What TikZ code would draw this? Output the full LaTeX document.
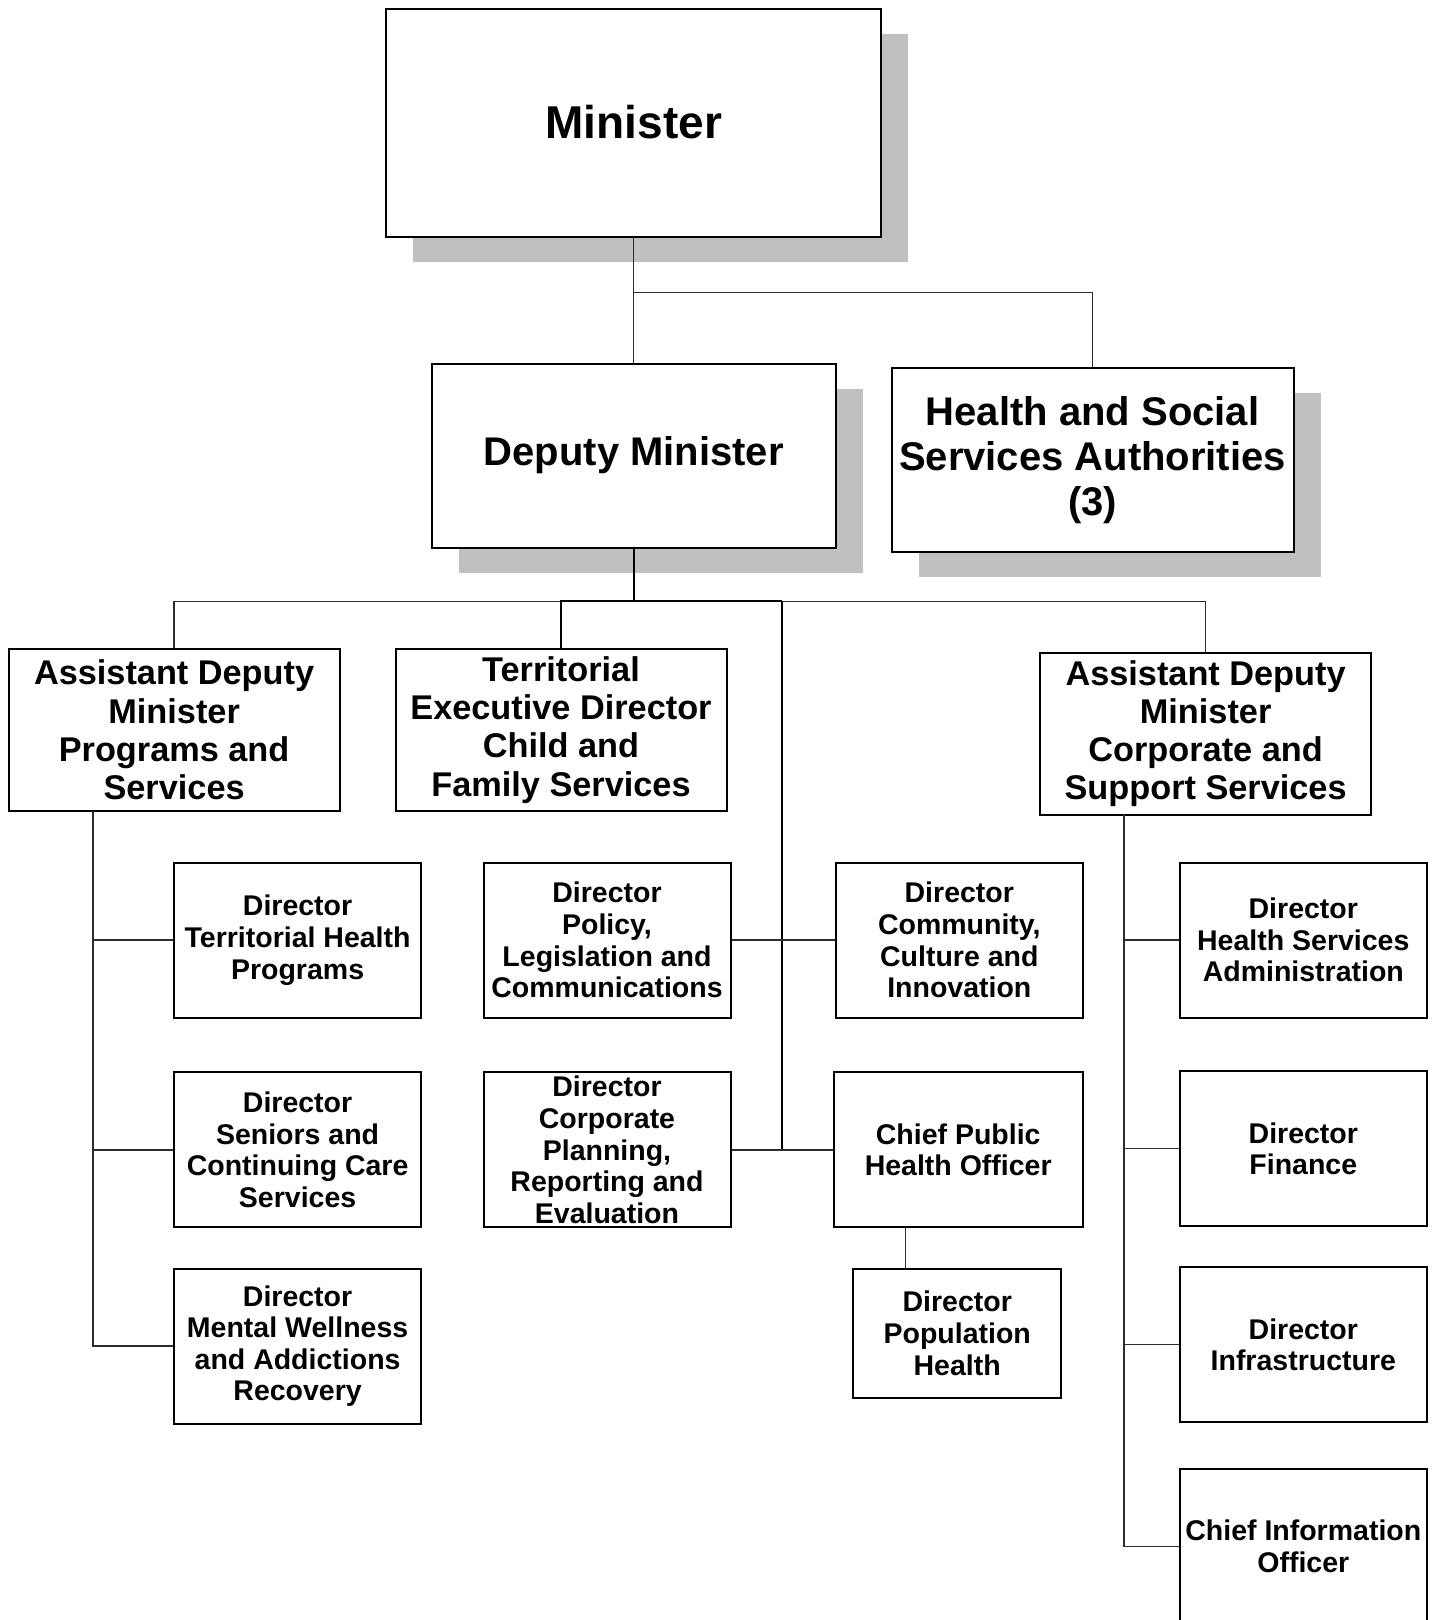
\documentclass[tikz,border=0pt]{standalone}
\usepackage{fontspec}
\setmainfont{Liberation Sans}
\usetikzlibrary{shadows,calc}
\definecolor{shadowgray}{RGB}{192,192,192}
\definecolor{linkgray}{RGB}{45,45,45}

\begin{document}
\begin{tikzpicture}[
  x=1pt, y=-1pt,
  every node/.style={font=\bfseries},
  orgbox/.style={draw, line width=2pt, fill=white, inner sep=0pt, align=center},
  topbox/.style={orgbox, drop shadow={shadow xshift=27pt, shadow yshift=-25pt, fill=shadowgray, opacity=1}},
  admbox/.style={orgbox, minimum width=331pt, minimum height=162pt,
    font=\bfseries\fontsize{34.3}{38.2}\selectfont},
  dirbox/.style={orgbox, minimum width=247pt, minimum height=155pt,
    font=\bfseries\fontsize{28.5}{31.6}\selectfont},
  link/.style={linkgray, line width=1.3pt},
  mainlink/.style={black, line width=2.2pt},
]

%% Page
\fill[white] (0,0) rectangle (1435,1620);
\useasboundingbox (0,0) rectangle (1435,1620);

%% ---- Top level (with shadows) ----
\node[topbox, minimum width=495pt, minimum height=228pt,
  font=\bfseries\fontsize{46}{52}\selectfont] (minister) at (633.8,122.5) {Minister};
\node[topbox, minimum width=404pt, minimum height=184pt,
  font=\bfseries\fontsize{40}{45}\selectfont] (deputy) at (633.8,455.6) {Deputy Minister};
\node[topbox, minimum width=402pt, minimum height=184pt,
  font=\bfseries\fontsize{40}{45}\selectfont] (hssa) at (1092.5,459.8)
  {Health and Social\\Services Authorities\\(3)};

%% ---- Second level ----
\node[admbox] (admprog) at (174.1,729.9)
  {Assistant Deputy\\Minister\\Programs and\\Services};
\node[admbox] (ted) at (561,729.9)
  {Territorial\\Executive Director\\Child and\\Family Services};
\node[admbox] (admcorp) at (1205.6,733.5)
  {Assistant Deputy\\Minister\\Corporate and\\Support Services};

%% ---- Directors under Programs and Services ----
\node[dirbox] (dirterr) at (297.6,940.1) {Director\\Territorial Health\\Programs};
\node[dirbox] (dirsen) at (297.6,1149.9) {Director\\Seniors and\\Continuing Care\\Services};
\node[dirbox] (dirmw) at (297.6,1346.1) {Director\\Mental Wellness\\and Addictions\\Recovery};

%% ---- Directors reporting to the Deputy ----
\node[dirbox] (dirpol) at (607,940.1) {Director\\Policy,\\Legislation and\\Communications};
\node[dirbox] (dircorp) at (607,1149.9) {Director\\Corporate\\Planning,\\Reporting and\\Evaluation};
\node[dirbox] (dircom) at (959.3,940.1) {Director\\Community,\\Culture and\\Innovation};
\node[dirbox, minimum width=249pt] (cpho) at (958.2,1149.9) {Chief Public\\Health Officer};
\node[dirbox, minimum width=208pt, minimum height=129pt] (dirpop) at (957.2,1333.2)
  {Director\\Population\\Health};

%% ---- Directors under Corporate and Support Services ----
\node[dirbox] (dirhsa) at (1303.3,940.1) {Director\\Health Services\\Administration};
\node[dirbox] (dirfin) at (1303.3,1148.8) {Director\\Finance};
\node[dirbox] (dirinf) at (1303.3,1344.6) {Director\\Infrastructure};
\node[dirbox] (cio) at (1303.3,1546.5) {Chief Information\\Officer};

%% ---- Connectors ----
\coordinate (minjoin) at (633.8,292.4);
\coordinate (dmbus) at (633.8,601.3);
\coordinate (tedjoin) at (561,601.3);
\coordinate (cbus) at (782,601.3);
\coordinate (lbus) at (93,811);
\coordinate (rbus) at (1124,814.1);

\draw[link] (minister.south) -- (deputy.north);
\draw[link] (minjoin) -| (hssa.north);

% bus below the Deputy Minister
\draw[link] (admprog.north) |- (tedjoin);
\draw[link] (cbus) -| (admcorp.north);
\draw[mainlink] (deputy.south) -- (dmbus);
\draw[mainlink] (ted.north) |- (cbus);
\draw[mainlink] (cbus) |- (cpho.west);
\draw[link] (dirpol.east) -- (dircom.west);
\draw[link] (dircorp.east) -- (cpho.west);
\draw[link] ([xshift=-53pt]cpho.south) -- ([xshift=-53pt]cpho.south |- dirpop.north);

% left bus
\draw[link] (lbus) |- (dirterr.west);
\draw[link] (lbus) |- (dirsen.west);
\draw[link] (lbus) |- (dirmw.west);

% right bus
\draw[link] (rbus) |- (dirhsa.west);
\draw[link] (rbus) |- (dirfin.west);
\draw[link] (rbus) |- (dirinf.west);
\draw[link] (rbus) |- (cio.west);

\end{tikzpicture}
\end{document}
